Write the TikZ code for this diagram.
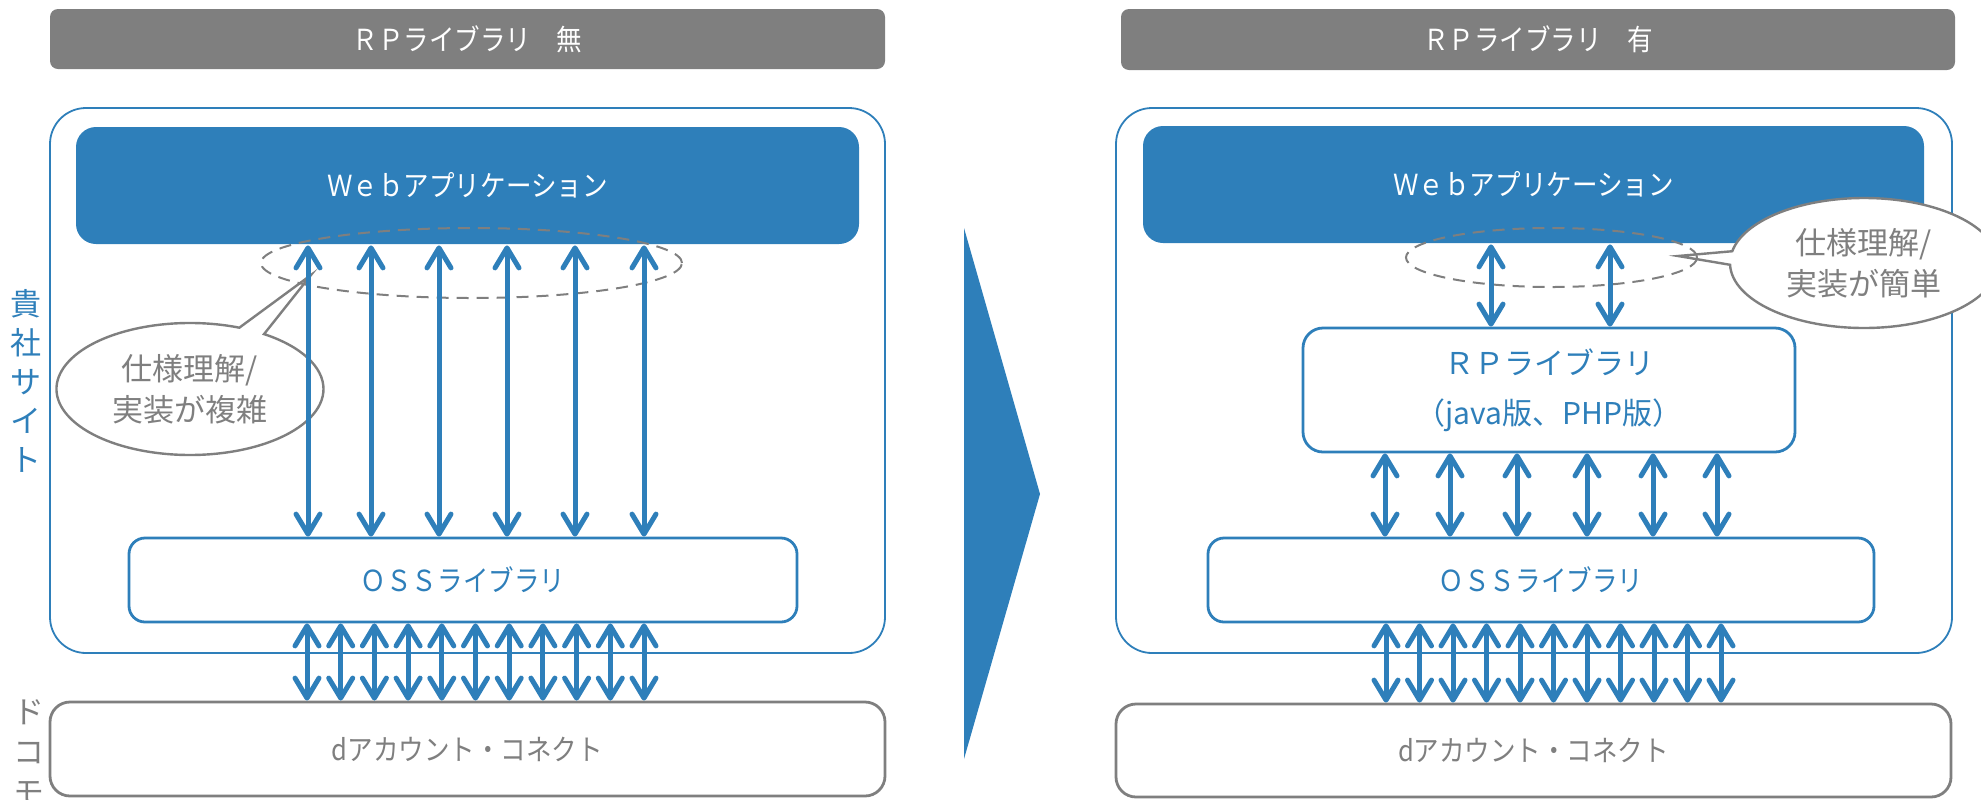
\documentclass[tikz,border=0pt]{standalone}
\usepackage{fontspec}
\setmainfont{Noto Sans CJK JP}
\newfontfamily\uifont{Noto Sans CJK JP}[FakeStretch=0.88]
\usetikzlibrary{arrows.meta,shapes.geometric,shapes.callouts}
\definecolor{mainblue}{RGB}{46,127,186}
\definecolor{midgray}{RGB}{127,127,127}
\begin{document}
\begin{tikzpicture}[x=0.5pt,y=-0.5pt]
\tikzset{box/.style={rectangle,inner sep=0pt,line width=1.4pt,font=\uifont\fontsize{14.5pt}{17pt}\selectfont}}
\tikzset{titlebar/.style={box,rounded corners=4pt,fill=midgray,text=white}}
\tikzset{sitebox/.style={box,rounded corners=18pt,draw=mainblue,line width=0.9pt}}
\tikzset{appbox/.style={box,rounded corners=10pt,fill=mainblue,text=white}}
\tikzset{libbox/.style={box,rounded corners=8pt,draw=mainblue,fill=white,text=mainblue}}
\tikzset{idbox/.style={box,rounded corners=10pt,draw=midgray,fill=white,text=midgray}}
\tikzset{rpbox/.style={libbox,rounded corners=10pt,align=center,font=\fontsize{15pt}{25pt}\selectfont}}
\tikzset{ring/.style={ellipse,draw=midgray,line width=1pt,dash pattern=on 6pt off 4pt,inner sep=0pt}}
\tikzset{note/.style={ellipse callout,draw=midgray,line width=1.2pt,fill=white,text=midgray,inner sep=0pt,align=center,callout pointer arc=12,font=\fontsize{15.5pt}{20.5pt}\selectfont}}
\tikzset{link/.style={draw=mainblue,line width=2.5pt,>={Straight Barb[length=10pt,width=12pt,round]},<->}}
\useasboundingbox (0,0) rectangle (1981,799);

\node[titlebar,minimum width=417.5pt,minimum height=30pt] (titleL) at (467.5,39) {ＲＰライブラリ　無};
\node[titlebar,minimum width=417pt,minimum height=30.5pt] (titleR) at (1538,39.5) {ＲＰライブラリ　有};

\node[sitebox,minimum width=417.5pt,minimum height=272.5pt] (siteL) at (467.5,380.5) {};
\node[sitebox,minimum width=418pt,minimum height=272.5pt] (siteR) at (1534,380.5) {};

\node[text=mainblue,align=center,font=\fontsize{15.5pt}{19.5pt}\selectfont] (siteLabel) at (26,380.5) {貴\\社\\サ\\イ\\ト};
\node[text=midgray,align=center,font=\fontsize{15.5pt}{20pt}\selectfont] (docomoLabel) at (29,752) {ド\\コ\\モ};

\node[appbox,minimum width=391.5pt,minimum height=58.5pt] (webL) at (467.5,185.5) {Ｗｅｂアプリケーション};
\node[libbox,minimum width=334pt,minimum height=42pt] (ossL) at (463,580) {ＯＳＳライブラリ};
\node[idbox,minimum width=417.5pt,minimum height=47pt] (dacL) at (467.5,749) {dアカウント・コネクト};

\node[appbox,minimum width=390.5pt,minimum height=58.5pt] (webR) at (1533.5,184.5) {Ｗｅｂアプリケーション};
\node[rpbox,minimum width=246pt,minimum height=62pt] (rpR) at (1549,390) {ＲＰライブラリ\\（java版、PHP版）};
\node[libbox,minimum width=333pt,minimum height=42pt] (ossR) at (1541,580) {ＯＳＳライブラリ};
\node[idbox,minimum width=417.5pt,minimum height=46.5pt] (dacR) at (1533.5,750.5) {dアカウント・コネクト};

\fill[mainblue] (964,228) -- (1040,494) -- (964,759) -- cycle;

\coordinate (tipL) at (311,275);
\node[note,minimum width=133.5pt,minimum height=66pt,callout absolute pointer=(tipL)] (noteL) at (190,389) {仕様理解/\\実装が複雑};
\coordinate (tipR) at (1678,256);
\node[note,minimum width=134pt,minimum height=65pt,callout absolute pointer=(tipR)] (noteR) at (1864,263) {仕様理解/\\実装が簡単};

\node[ring,minimum width=210.5pt,minimum height=35pt] (ringL) at (471.5,263) {};
\node[ring,minimum width=145.5pt,minimum height=29.5pt] (ringR) at (1551.5,257.5) {};

\foreach \x in {308,371,439,507,575,644}
  \draw[link] (\x,0 |- webL.south) -- (\x,0 |- ossL.north);
\foreach \i [evaluate=\i as \x using 307+33.7*\i] in {0,...,10}
  \draw[link] (\x,0 |- ossL.south) -- (\x,0 |- dacL.north);

\foreach \x in {1491,1610}
  \draw[link] (\x,0 |- webR.south) -- (\x,0 |- rpR.north);
\foreach \x in {1385,1450,1517,1587,1653,1717}
  \draw[link] (\x,0 |- rpR.south) -- (\x,0 |- ossR.north);
\foreach \i [evaluate=\i as \x using 1386+33.5*\i] in {0,...,10}
  \draw[link] (\x,0 |- ossR.south) -- (\x,0 |- dacR.north);
\end{tikzpicture}
\end{document}
